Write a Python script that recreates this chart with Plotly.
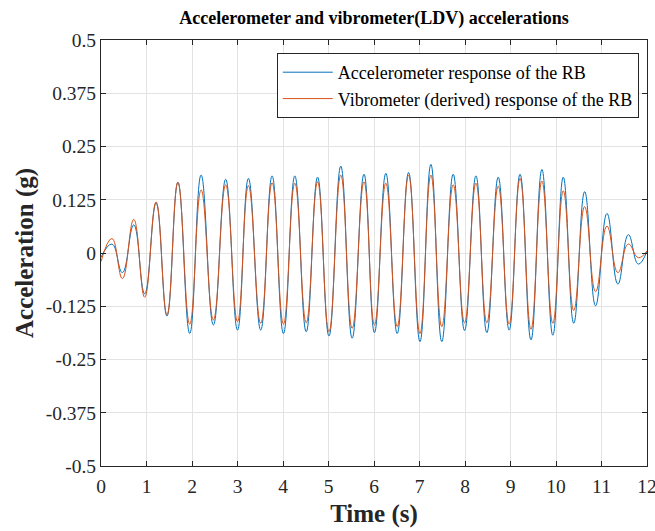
import plotly.graph_objects as go

# Extrema times (s)
t_ext = [0.0, 0.24, 0.47, 0.72, 0.96, 1.21, 1.45, 1.69, 1.95, 2.20,
         2.47, 2.74, 3.00, 3.24, 3.51, 3.76, 4.01, 4.26, 4.51, 4.76,
         5.01, 5.27, 5.52, 5.78, 6.01, 6.26, 6.51, 6.76, 7.01, 7.25,
         7.49, 7.74, 7.99, 8.24, 8.48, 8.73, 8.97, 9.21, 9.45, 9.69,
         9.93, 10.16, 10.39, 10.63, 10.87, 11.12, 11.36, 11.59, 11.81, 12.0]

accelerometer = [-0.01, 0.021, -0.046, 0.066, -0.096, 0.117, -0.148, 0.166, -0.189, 0.183,
                 -0.169, 0.173, -0.181, 0.175, -0.181, 0.181, -0.189, 0.181, -0.185, 0.178,
                 -0.195, 0.204, -0.200, 0.185, -0.187, 0.187, -0.189, 0.189, -0.208, 0.208,
                 -0.208, 0.185, -0.182, 0.181, -0.187, 0.178, -0.181, 0.185, -0.204, 0.196,
                 -0.193, 0.178, -0.165, 0.144, -0.124, 0.093, -0.073, 0.043, -0.026, 0.005]

vibrometer = [-0.02, 0.034, -0.060, 0.079, -0.104, 0.120, -0.145, 0.166, -0.167, 0.148,
              -0.157, 0.160, -0.161, 0.158, -0.165, 0.165, -0.167, 0.164, -0.164, 0.167,
              -0.185, 0.183, -0.177, 0.167, -0.169, 0.164, -0.173, 0.183, -0.189, 0.183,
              -0.173, 0.160, -0.164, 0.164, -0.164, 0.157, -0.167, 0.175, -0.179, 0.169,
              -0.165, 0.146, -0.135, 0.109, -0.091, 0.063, -0.046, 0.021, -0.011, 0.005]

x_ticks = list(range(0, 13))
y_ticks = [0.5, 0.375, 0.25, 0.125, 0, -0.125, -0.25, -0.375, -0.5]
y_tick_labels = ["0.5", "0.375", "0.25", "0.125", "0", "-0.125", "-0.25", "-0.375", "-0.5"]

FONT = "Liberation Serif"
AX = "#262626"

fig = go.Figure()
fig.add_trace(go.Scatter(x=t_ext, y=accelerometer, mode="lines",
                         line=dict(color="#0072BD", width=1, shape="spline", smoothing=1.3),
                         name="Accelerometer response of the RB"))
fig.add_trace(go.Scatter(x=t_ext, y=vibrometer, mode="lines",
                         line=dict(color="#D95319", width=1, shape="spline", smoothing=1.3),
                         name="Vibrometer (derived) response of the RB"))

axis_common = dict(showline=True, linecolor=AX, linewidth=1, mirror="ticks",
                   ticks="inside", ticklen=5, tickcolor=AX, showgrid=True,
                   gridcolor="#e3e3e3", gridwidth=1, zeroline=False,
                   automargin=False, ticklabeloverflow="allow",
                   tickfont=dict(family=FONT, size=19.5, color=AX))

fig.update_layout(
    width=655, height=531,
    margin=dict(l=101, r=8, t=40, b=65),
    paper_bgcolor="white", plot_bgcolor="white",
    font=dict(family=FONT, color=AX),
    title=dict(text="<b>Accelerometer and vibrometer(LDV) accelerations</b>",
               font=dict(family=FONT, size=18, color="black"),
               x=0.5, xref="paper", xanchor="center",
               y=1 - 18 / 531, yref="container", yanchor="middle"),
    xaxis=dict(range=[0, 12], tickvals=x_ticks, ticklabelstandoff=3,
               title=dict(text="<b>Time (s)</b>", font=dict(family=FONT, size=25, color=AX), standoff=8),
               **axis_common),
    yaxis=dict(range=[-0.5, 0.5], tickvals=y_ticks, ticktext=y_tick_labels,
               title=dict(text="<b>Acceleration (g)</b>", font=dict(family=FONT, size=25, color=AX), standoff=4),
               **axis_common),
    legend=dict(x=0.985, y=0.9695, xanchor="right", yanchor="top",
                bgcolor="white", bordercolor=AX, borderwidth=1,
                font=dict(family=FONT, size=18, color="black"),
                itemwidth=50, tracegroupgap=0),
    showlegend=True,
)

fig.write_html("out.html",
               config={"displayModeBar": False},
               post_script="document.body.style.margin='0';document.body.style.overflow='hidden';")
